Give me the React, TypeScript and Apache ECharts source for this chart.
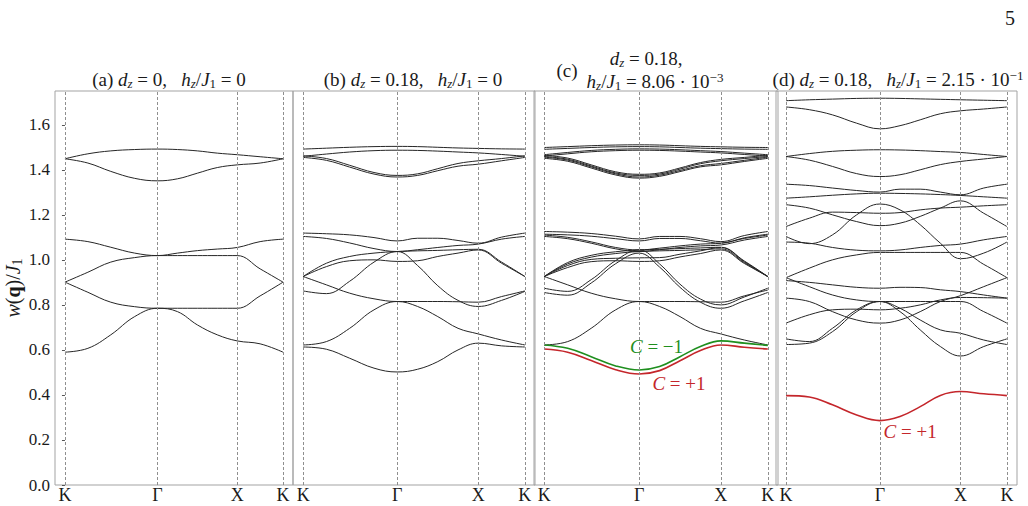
import React, { useEffect, useRef } from 'react';
import * as echarts from 'echarts';

// Momentum path K -> Γ -> X -> K (path length coordinate) and sample points along it
const symPoints = [0, 93, 173, 219];
const symNames = ['K', 'Γ', 'X', 'K'];
const qs = [0, 23, 46, 70, 93, 113, 133, 153, 173, 196, 219];
const yTickValues = [0, 0.2, 0.4, 0.6, 0.8, 1.0, 1.2, 1.4, 1.6];

// (a) d_z = 0, h_z/J1 = 0
const bandsA = [
  [1.449, 1.471, 1.484, 1.490, 1.492, 1.490, 1.484, 1.474, 1.467, 1.458, 1.449],
  [1.449, 1.430, 1.393, 1.362, 1.351, 1.360, 1.385, 1.410, 1.422, 1.430, 1.449],
  [1.092, 1.081, 1.056, 1.030, 1.019, 1.030, 1.041, 1.048, 1.055, 1.081, 1.092],
  [0.901, 0.945, 0.990, 1.010, 1.019, 1.019, 1.019, 1.019, 1.019, 0.960, 0.901],
  [0.901, 0.856, 0.812, 0.792, 0.785, 0.785, 0.785, 0.785, 0.785, 0.840, 0.901],
  [0.590, 0.607, 0.667, 0.748, 0.785, 0.770, 0.711, 0.667, 0.640, 0.627, 0.590],
];

// (b) d_z = 0.18, h_z/J1 = 0
const bandsB = [
  [1.492, 1.496, 1.500, 1.503, 1.504, 1.503, 1.500, 1.497, 1.495, 1.493, 1.492],
  [1.460, 1.470, 1.479, 1.485, 1.487, 1.486, 1.483, 1.479, 1.475, 1.468, 1.460],
  [1.462, 1.450, 1.420, 1.388, 1.375, 1.382, 1.405, 1.428, 1.440, 1.450, 1.462],
  [1.455, 1.442, 1.412, 1.381, 1.368, 1.375, 1.396, 1.416, 1.425, 1.440, 1.455],
  [1.119, 1.116, 1.111, 1.099, 1.084, 1.096, 1.096, 1.086, 1.074, 1.101, 1.119],
  [1.104, 1.095, 1.075, 1.050, 1.037, 1.045, 1.055, 1.064, 1.070, 1.092, 1.104],
  [0.926, 0.985, 1.015, 1.030, 1.037, 1.040, 1.042, 1.045, 1.047, 0.990, 0.926],
  [0.926, 0.970, 0.996, 1.000, 0.993, 0.996, 1.015, 1.030, 1.044, 0.985, 0.926],
  [0.926, 0.889, 0.852, 0.827, 0.815, 0.815, 0.815, 0.814, 0.812, 0.837, 0.862],
  [0.862, 0.850, 0.905, 0.990, 1.037, 0.975, 0.885, 0.820, 0.793, 0.820, 0.860],
  [0.622, 0.637, 0.696, 0.778, 0.815, 0.793, 0.748, 0.696, 0.671, 0.644, 0.622],
  [0.613, 0.603, 0.563, 0.519, 0.502, 0.514, 0.548, 0.600, 0.630, 0.618, 0.613],
];

// (c) d_z = 0.18, h_z/J1 = 8.06e-3 (neutral bands)
const bandsC = [
  [1.499, 1.503, 1.507, 1.510, 1.511, 1.510, 1.507, 1.504, 1.502, 1.500, 1.499],
  [1.491, 1.495, 1.499, 1.502, 1.503, 1.502, 1.499, 1.496, 1.494, 1.492, 1.491],
  [1.467, 1.477, 1.486, 1.491, 1.493, 1.492, 1.489, 1.485, 1.481, 1.474, 1.467],
  [1.461, 1.471, 1.480, 1.485, 1.487, 1.486, 1.483, 1.479, 1.475, 1.468, 1.461],
  [1.464, 1.452, 1.422, 1.391, 1.380, 1.386, 1.408, 1.432, 1.446, 1.455, 1.464],
  [1.459, 1.447, 1.417, 1.386, 1.375, 1.381, 1.403, 1.427, 1.440, 1.450, 1.459],
  [1.456, 1.443, 1.413, 1.382, 1.368, 1.376, 1.397, 1.418, 1.428, 1.442, 1.456],
  [1.451, 1.438, 1.408, 1.377, 1.363, 1.371, 1.392, 1.413, 1.422, 1.437, 1.451],
  [1.126, 1.123, 1.117, 1.105, 1.093, 1.104, 1.104, 1.094, 1.081, 1.108, 1.126],
  [1.114, 1.111, 1.105, 1.094, 1.084, 1.095, 1.095, 1.085, 1.074, 1.098, 1.114],
  [1.110, 1.100, 1.080, 1.055, 1.044, 1.052, 1.062, 1.070, 1.074, 1.095, 1.110],
  [1.104, 1.094, 1.074, 1.049, 1.037, 1.045, 1.055, 1.062, 1.066, 1.088, 1.104],
  [0.926, 0.988, 1.020, 1.036, 1.044, 1.047, 1.050, 1.053, 1.056, 0.995, 0.926],
  [0.926, 0.982, 1.012, 1.028, 1.037, 1.040, 1.042, 1.045, 1.049, 0.988, 0.926],
  [0.926, 0.975, 1.002, 1.007, 1.009, 1.010, 1.025, 1.040, 1.055, 0.992, 0.926],
  [0.926, 0.966, 0.992, 0.996, 0.993, 0.996, 1.013, 1.028, 1.044, 0.984, 0.926],
  [0.926, 0.889, 0.852, 0.827, 0.815, 0.815, 0.815, 0.814, 0.812, 0.840, 0.866],
  [0.874, 0.860, 0.912, 0.997, 1.044, 0.982, 0.892, 0.826, 0.800, 0.835, 0.874],
  [0.855, 0.843, 0.897, 0.983, 1.030, 0.968, 0.878, 0.812, 0.785, 0.818, 0.855],
  [0.622, 0.637, 0.696, 0.778, 0.815, 0.793, 0.748, 0.696, 0.671, 0.644, 0.622],
];
// (c) topological lowest pair
const bandCMinus = [0.622, 0.607, 0.570, 0.529, 0.511, 0.526, 0.570, 0.615, 0.640, 0.630, 0.620];
const bandCPlus = [0.604, 0.590, 0.553, 0.512, 0.493, 0.508, 0.552, 0.597, 0.622, 0.612, 0.604];

// (d) d_z = 0.18, h_z/J1 = 2.15e-1 (neutral bands)
const bandsD = [
  [1.707, 1.711, 1.714, 1.717, 1.718, 1.717, 1.715, 1.713, 1.711, 1.709, 1.707],
  [1.679, 1.667, 1.644, 1.607, 1.582, 1.596, 1.622, 1.649, 1.662, 1.670, 1.679],
  [1.459, 1.472, 1.482, 1.487, 1.489, 1.488, 1.485, 1.481, 1.477, 1.468, 1.459],
  [1.459, 1.443, 1.415, 1.383, 1.370, 1.378, 1.400, 1.423, 1.437, 1.448, 1.459],
  [1.336, 1.330, 1.319, 1.308, 1.301, 1.314, 1.314, 1.301, 1.289, 1.319, 1.336],
  [1.274, 1.280, 1.287, 1.293, 1.296, 1.295, 1.293, 1.290, 1.286, 1.280, 1.274],
  [1.245, 1.230, 1.200, 1.170, 1.152, 1.163, 1.193, 1.230, 1.262, 1.207, 1.148],
  [1.148, 1.185, 1.212, 1.210, 1.207, 1.210, 1.222, 1.230, 1.234, 1.240, 1.245],
  [1.104, 1.072, 1.111, 1.200, 1.248, 1.222, 1.156, 1.074, 1.005, 1.030, 1.079],
  [1.079, 1.074, 1.055, 1.043, 1.040, 1.044, 1.055, 1.064, 1.070, 1.089, 1.104],
  [0.921, 0.963, 1.000, 1.022, 1.033, 1.033, 1.033, 1.033, 1.033, 0.980, 0.921],
  [0.908, 0.900, 0.889, 0.878, 0.874, 0.878, 0.877, 0.867, 0.859, 0.844, 0.830],
  [0.921, 0.881, 0.844, 0.822, 0.815, 0.815, 0.815, 0.815, 0.815, 0.770, 0.719],
  [0.830, 0.815, 0.770, 0.733, 0.719, 0.733, 0.770, 0.815, 0.841, 0.881, 0.921],
  [0.719, 0.756, 0.778, 0.781, 0.778, 0.785, 0.800, 0.822, 0.833, 0.832, 0.830],
  [0.624, 0.630, 0.681, 0.770, 0.815, 0.770, 0.689, 0.615, 0.573, 0.615, 0.649],
  [0.649, 0.637, 0.696, 0.778, 0.815, 0.785, 0.733, 0.689, 0.674, 0.644, 0.624],
];
// (d) isolated lowest band
const bandDPlus = [0.397, 0.391, 0.356, 0.311, 0.286, 0.304, 0.348, 0.398, 0.415, 0.405, 0.397];

const FONT = "'Liberation Serif', 'DejaVu Serif', serif";
const INK = '#1a1a1a';
const BAND = '#262626';
const RED = '#c4262b';
const GREEN = '#1f8f1f';

const mathRich = (size: number, lh = size + 2) => {
  const sub = Math.round(size * 0.68);
  return {
    i: { fontStyle: 'italic', fontWeight: 'normal', fontSize: size, fontFamily: FONT, lineHeight: lh },
    b: { fontWeight: 'bold', fontSize: size, fontFamily: FONT, lineHeight: lh },
    si: { fontStyle: 'italic', fontWeight: 'normal', fontSize: sub, fontFamily: FONT, lineHeight: sub, verticalAlign: 'bottom' },
    sn: { fontWeight: 'normal', fontSize: sub, fontFamily: FONT, lineHeight: sub, verticalAlign: 'bottom' },
    sup: { fontWeight: 'normal', fontSize: sub, fontFamily: FONT, lineHeight: sub, verticalAlign: 'top' },
  };
};

const panels = [
  { left: 55, width: 238, bands: bandsA },
  { left: 293, width: 242, bands: bandsB },
  { left: 534, width: 244, bands: bandsC },
  { left: 776, width: 241, bands: bandsD },
];

const titleText = (x: number, y: number, text: string, size = 19) => ({
  type: 'text',
  x,
  y,
  silent: true,
  style: {
    text,
    fontFamily: FONT,
    fontSize: size,
    lineHeight: size + 2,
    fill: INK,
    align: 'center',
    verticalAlign: 'middle',
    rich: mathRich(size),
  },
});

const toPoints = (vals: number[]) => qs.map((q, k) => [q, vals[k]]);

const bandSeries = (vals: number[], gi: number, color = BAND, width = 1) => ({
  type: 'line',
  xAxisIndex: gi,
  yAxisIndex: gi,
  data: toPoints(vals),
  showSymbol: false,
  symbol: 'none',
  smooth: 0.4,
  silent: true,
  z: 3,
  lineStyle: { color, width },
});

const chernLabel = (x: number, y: number, text: string, color: string) => ({
  symbol: 'circle',
  symbolSize: 1,
  silent: true,
  itemStyle: { color: 'rgba(0,0,0,0)' },
  label: {
    show: true,
    position: 'inside',
    formatter: text,
    color,
    fontFamily: FONT,
    fontSize: 19,
    rich: {
      i: { fontStyle: 'italic', fontFamily: FONT, fontSize: 19, color },
    },
  },
  data: [{ coord: [x, y] }],
});

export default function App() {
  const ref = useRef<HTMLDivElement>(null);

  useEffect(() => {
    document.body.style.margin = '0';
    if (!ref.current) return;
    const chart = echarts.init(ref.current, undefined, { renderer: 'svg' });

    const grid = panels.map((p) => ({
      left: p.left,
      width: p.width,
      top: 91,
      height: 394,
      show: true,
      borderColor: '#a3a3a3',
      borderWidth: 1,
      backgroundColor: 'transparent',
    }));

    const xAxis = panels.map((_, gi) => ({
      type: 'value',
      gridIndex: gi,
      min: -10,
      max: 229,
      splitLine: { show: false },
      axisLine: { show: false },
      axisTick: { show: false },
      axisLabel: {
        customValues: symPoints,
        formatter: (v: number) => symNames[symPoints.indexOf(v)] ?? '',
        fontFamily: FONT,
        fontSize: 18,
        color: INK,
        margin: 1,
      },
    }));

    const yAxis = panels.map((_, gi) => ({
      type: 'value',
      gridIndex: gi,
      min: 0,
      max: 1.75,
      splitLine: { show: false },
      axisLine: { show: false },
      axisTick: gi === 0
        ? { show: true, customValues: yTickValues, length: 3, lineStyle: { color: '#555' } }
        : { show: false },
      axisLabel: gi === 0
        ? {
            customValues: yTickValues,
            formatter: (v: number) => v.toFixed(1),
            fontFamily: FONT,
            fontSize: 17,
            color: INK,
            margin: 5,
          }
        : { show: false },
      ...(gi === 0
        ? {
            name: '{i|w}({b|q})/{i|J}{sn|1}',
            nameLocation: 'middle',
            nameRotate: 90,
            nameGap: 31,
            nameTextStyle: {
              fontFamily: FONT,
              fontSize: 20,
              fontWeight: 'normal',
              color: INK,
              rich: mathRich(20),
            },
          }
        : {}),
    }));

    const series: any[] = [];
    panels.forEach((p, gi) => {
      p.bands.forEach((vals, bi) => {
        const s: any = bandSeries(vals, gi);
        if (bi === 0) {
          s.markLine = {
            silent: true,
            symbol: ['none', 'none'],
            label: { show: false },
            lineStyle: { color: '#8f8f8f', width: 1, type: [3, 2] },
            data: symPoints.map((q) => ({ xAxis: q })),
          };
        }
        series.push(s);
      });
    });

    const cMinus: any = bandSeries(bandCMinus, 2, GREEN, 1.6);
    cMinus.markPoint = chernLabel(110, 0.613, '{i|C} = −1', GREEN);
    const cPlus: any = bandSeries(bandCPlus, 2, RED, 1.6);
    cPlus.markPoint = chernLabel(132, 0.449, '{i|C} = +1', RED);
    const dPlus: any = bandSeries(bandDPlus, 3, RED, 1.6);
    dPlus.markPoint = chernLabel(123, 0.236, '{i|C} = +1', RED);
    series.push(cMinus, cPlus, dPlus);

    chart.setOption({
      animation: false,
      backgroundColor: '#ffffff',
      grid,
      xAxis,
      yAxis,
      series,
      graphic: [
        titleText(169, 79, '(a) {i|d}{si|z} = 0,   {i|h}{si|z}/{i|J}{sn|1} = 0'),
        titleText(413, 79, '(b) {i|d}{si|z} = 0.18,   {i|h}{si|z}/{i|J}{sn|1} = 0'),
        titleText(567, 70, '(c)'),
        titleText(646, 58, '{i|d}{si|z} = 0.18,'),
        titleText(655, 81, '{i|h}{si|z}/{i|J}{sn|1} = 8.06 · 10{sup|−3}'),
        titleText(898, 79, '(d) {i|d}{si|z} = 0.18,   {i|h}{si|z}/{i|J}{sn|1} = 2.15 · 10{sup|−1}'),
        {
          type: 'text',
          x: 1010,
          y: 18,
          silent: true,
          style: { text: '5', fontFamily: FONT, fontSize: 20, fill: INK, align: 'center', verticalAlign: 'middle' },
        },
      ],
    });

    return () => chart.dispose();
  }, []);

  return <div ref={ref} style={{ width: 1028, height: 506 }} />;
}
